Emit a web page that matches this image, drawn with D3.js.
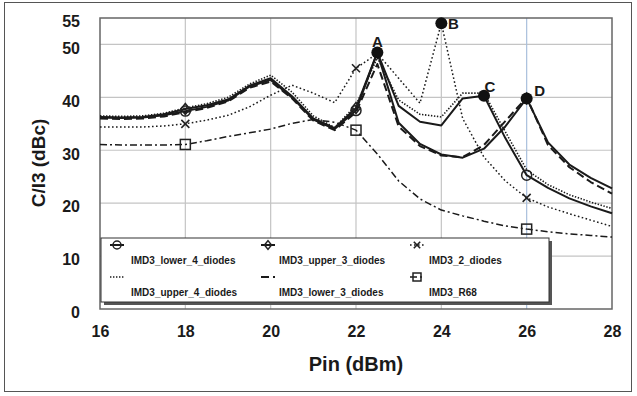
<!DOCTYPE html>
<html>
<head>
<meta charset="utf-8">
<script src="https://cdn.jsdelivr.net/npm/d3@7"></script>
<style>
  html, body { margin: 0; padding: 0; background: #fff; }
  svg { display: block; }
  text { font-family: "Liberation Sans", Arial, sans-serif; font-weight: bold; fill: #1a1a1a; }
</style>
</head>
<body>
<svg id="chart" width="637" height="396"></svg>
<script>
// Input power sweep (dBm)
const pin = [16, 16.5, 17, 17.5, 18, 18.5, 19, 19.5, 20, 20.5, 21, 21.5, 22, 22.5,
             23, 23.5, 24, 24.5, 25, 25.5, 26, 26.5, 27, 27.5, 28];

// C/I3 (dBc) for each configuration
const lower4 = [36.2, 36.1, 36.2, 36.6, 37.4, 38.2, 39.4, 42.0, 43.3, 40.0, 35.8, 34.0, 37.5, 48.5,
                38.4, 35.4, 34.7, 39.8, 40.3, 32.3, 25.3, 22.9, 20.9, 19.4, 18.1];
const upper3 = [36.3, 36.2, 36.3, 36.8, 37.8, 38.5, 39.6, 42.2, 43.6, 40.2, 36.0, 34.2, 38.0, 48.5,
                35.2, 31.2, 29.2, 28.6, 30.3, 34.5, 39.8, 31.5, 27.3, 24.8, 22.8];
const twoDiodes = [34.4, 34.4, 34.4, 34.6, 35.0, 35.7, 36.6, 38.2, 40.4, 42.3, 40.8, 39.0, 45.5, 48.3,
                   43.6, 38.9, 54.0, 36.0, 28.7, 24.2, 21.0, 19.3, 18.0, 16.8, 15.6];
const upper4 = [36.5, 36.4, 36.5, 37.0, 38.0, 38.8, 40.0, 42.5, 44.2, 41.0, 36.5, 34.3, 38.5, 47.5,
                39.5, 36.8, 36.3, 40.8, 40.8, 33.5, 26.3, 23.5, 21.6, 20.2, 19.0];
const lower3 = [36.0, 35.9, 36.0, 36.4, 37.2, 38.0, 39.2, 41.8, 43.0, 39.8, 35.6, 33.8, 37.2, 46.3,
                34.5, 30.8, 29.0, 28.7, 31.0, 35.5, 40.0, 31.0, 26.8, 24.0, 21.8];
const r68 = [31.1, 31.0, 31.0, 31.0, 31.1, 31.8, 32.6, 33.3, 34.0, 35.1, 35.8, 35.3, 33.8, 29.3,
             24.2, 20.8, 18.7, 17.6, 16.6, 15.7, 15.1, 14.6, 14.2, 13.9, 13.6];

// Pins where series symbols are placed
const markerPins = [18, 22, 26];

// Annotated operating points
const peakLabels = ["A", "B", "C", "D"];
const peakPins = [22.5, 24, 25, 26];
const peakValues = [48.5, 54.0, 40.3, 39.8];

// Axis ticks
const xTicks = [16, 18, 20, 22, 24, 26, 28];
const yTicks = [0, 10, 20, 30, 40, 50, 55];
const xGrid = [18, 20, 22, 24, 26];
const yGrid = [10, 20, 30, 40, 50];

const seriesNames = ["IMD3_lower_4_diodes", "IMD3_upper_3_diodes", "IMD3_2_diodes",
                     "IMD3_upper_4_diodes", "IMD3_lower_3_diodes", "IMD3_R68"];
const seriesValues = [lower4, upper3, twoDiodes, upper4, lower3, r68];
const seriesDash = [null, null, "1.6,2.4", "1.4,1.6", "8,4", "7,3,2,3"];
const seriesWidth = [2, 2, 1.5, 1.6, 2, 1.5];
const seriesSymbol = ["circle", "diamond", "cross", null, null, "square"];

const svg = d3.select("#chart");
const W = 637, H = 396;
const plot = { left: 100, right: 612, top: 18, bottom: 309 };

const x = d3.scaleLinear().domain([16, 28]).range([plot.left, plot.right]);
const y = d3.scaleLinear().domain([0, 55]).range([plot.bottom, plot.top]);

// outer frame
svg.append("rect").attr("x", 4.5).attr("y", 2.5).attr("width", 627).attr("height", 389)
  .attr("fill", "#fff").attr("stroke", "#555").attr("stroke-width", 1);

// grid
const grid = svg.append("g");
grid.selectAll("line.h").data(yGrid).join("line")
  .attr("x1", plot.left).attr("x2", plot.right)
  .attr("y1", d => y(d)).attr("y2", d => y(d))
  .attr("stroke", "#c4c4c4").attr("stroke-width", 1.2);
grid.selectAll("line.v").data(xGrid).join("line")
  .attr("y1", plot.top).attr("y2", plot.bottom)
  .attr("x1", d => x(d)).attr("x2", d => x(d))
  .attr("stroke", d => d === 26 ? "#a9bfdc" : "#c4c4c4").attr("stroke-width", 1.2);

// plot border
svg.append("rect").attr("x", plot.left).attr("y", plot.top)
  .attr("width", plot.right - plot.left).attr("height", plot.bottom - plot.top)
  .attr("fill", "none").attr("stroke", "#666").attr("stroke-width", 1.5);

// axes
const yAxis = svg.append("g").attr("transform", `translate(${plot.left},0)`)
  .call(d3.axisLeft(y).tickValues(yTicks).tickSize(0).tickPadding(20));
yAxis.select(".domain").remove();
yAxis.selectAll("text").attr("font-size", 16).attr("dy", "0.55em")
  .style("font-family", "'Liberation Sans', Arial, sans-serif").style("font-weight", "bold").attr("fill", "#1a1a1a");

const xAxis = svg.append("g").attr("transform", `translate(0,${plot.bottom})`)
  .call(d3.axisBottom(x).tickValues(xTicks).tickSize(0).tickPadding(17));
xAxis.select(".domain").remove();
xAxis.selectAll("text").attr("font-size", 16)
  .style("font-family", "'Liberation Sans', Arial, sans-serif").style("font-weight", "bold").attr("fill", "#1a1a1a");

// axis titles
svg.append("text").attr("x", 356).attr("y", 371).attr("text-anchor", "middle")
  .attr("font-size", 20).text("Pin (dBm)");
svg.append("text").attr("transform", "translate(45,163) rotate(-90)")
  .attr("text-anchor", "middle").attr("font-size", 19).text("C/I3 (dBc)");

// symbol drawing
function drawSymbol(g, type, cx, cy, s) {
  const k = s || 1;
  if (type === "circle") {
    g.append("circle").attr("cx", cx).attr("cy", cy).attr("r", 5 * k)
      .attr("fill", "none").attr("stroke", "#222").attr("stroke-width", 1.5);
  } else if (type === "diamond") {
    const r = 5.5 * k;
    g.append("path").attr("d", `M${cx},${cy - r}L${cx + r * 0.8},${cy}L${cx},${cy + r}L${cx - r * 0.8},${cy}Z`)
      .attr("fill", "none").attr("stroke", "#222").attr("stroke-width", 1.5);
  } else if (type === "cross") {
    const r = 4 * k;
    g.append("path").attr("d", `M${cx - r},${cy - r}L${cx + r},${cy + r}M${cx - r},${cy + r}L${cx + r},${cy - r}`)
      .attr("fill", "none").attr("stroke", "#222").attr("stroke-width", 1.6);
  } else if (type === "square") {
    const r = 5 * k;
    g.append("rect").attr("x", cx - r).attr("y", cy - r).attr("width", 2 * r).attr("height", 2 * r)
      .attr("fill", "none").attr("stroke", "#222").attr("stroke-width", 1.5);
  }
}

// series lines
const line = d3.line().x((d, i) => x(pin[i])).y(d => y(d));
const lines = svg.append("g");
// draw back to front: thin ones first
const order = [5, 2, 3, 4, 1, 0];
order.forEach(si => {
  lines.append("path").datum(seriesValues[si])
    .attr("d", line).attr("fill", "none")
    .attr("stroke", "#1a1a1a").attr("stroke-width", seriesWidth[si])
    .attr("stroke-dasharray", seriesDash[si])
    .attr("stroke-linejoin", "round");
});

// series symbols
const syms = svg.append("g");
order.forEach(si => {
  if (!seriesSymbol[si]) return;
  markerPins.forEach(p => {
    const idx = pin.indexOf(p);
    drawSymbol(syms, seriesSymbol[si], x(p), y(seriesValues[si][idx]));
  });
});

// annotated points
const labelOffsets = [[0, -11], [12, 0], [6, -9], [13, -8]];
const peaks = svg.append("g");
peakLabels.forEach((lab, i) => {
  const cx = x(peakPins[i]), cy = y(peakValues[i]);
  peaks.append("circle").attr("cx", cx).attr("cy", cy).attr("r", 6).attr("fill", "#111");
  peaks.append("text").attr("x", cx + labelOffsets[i][0]).attr("y", cy + labelOffsets[i][1])
    .attr("text-anchor", "middle").attr("dy", "0.36em").attr("font-size", 15).text(lab);
});

// legend
const lg = svg.append("g");
const box = { x: 101, y: 238, w: 448, h: 64 };
lg.append("rect").attr("x", box.x + 3).attr("y", box.y + 3).attr("width", box.w).attr("height", box.h)
  .attr("fill", "#555");
lg.append("rect").attr("x", box.x).attr("y", box.y).attr("width", box.w).attr("height", box.h)
  .attr("fill", "#fff").attr("stroke", "#333").attr("stroke-width", 1);

const colSym = [117, 268, 417];
const colText = [131, 279, 429];
const rowSym = [245, 277];
const rowText = [264, 296];
seriesNames.forEach((name, si) => {
  const col = si % 3, row = Math.floor(si / 3);
  const cx = colSym[col], cy = rowSym[row];
  lg.append("line").attr("x1", cx - 7).attr("x2", cx + 7).attr("y1", cy).attr("y2", cy)
    .attr("stroke", "#1a1a1a").attr("stroke-width", seriesWidth[si])
    .attr("stroke-dasharray", seriesDash[si]);
  if (seriesSymbol[si]) drawSymbol(lg, seriesSymbol[si], cx, cy, 0.8);
  lg.append("text").attr("x", colText[col]).attr("y", rowText[row])
    .attr("font-size", 10).text(name);
});
</script>
</body>
</html>
